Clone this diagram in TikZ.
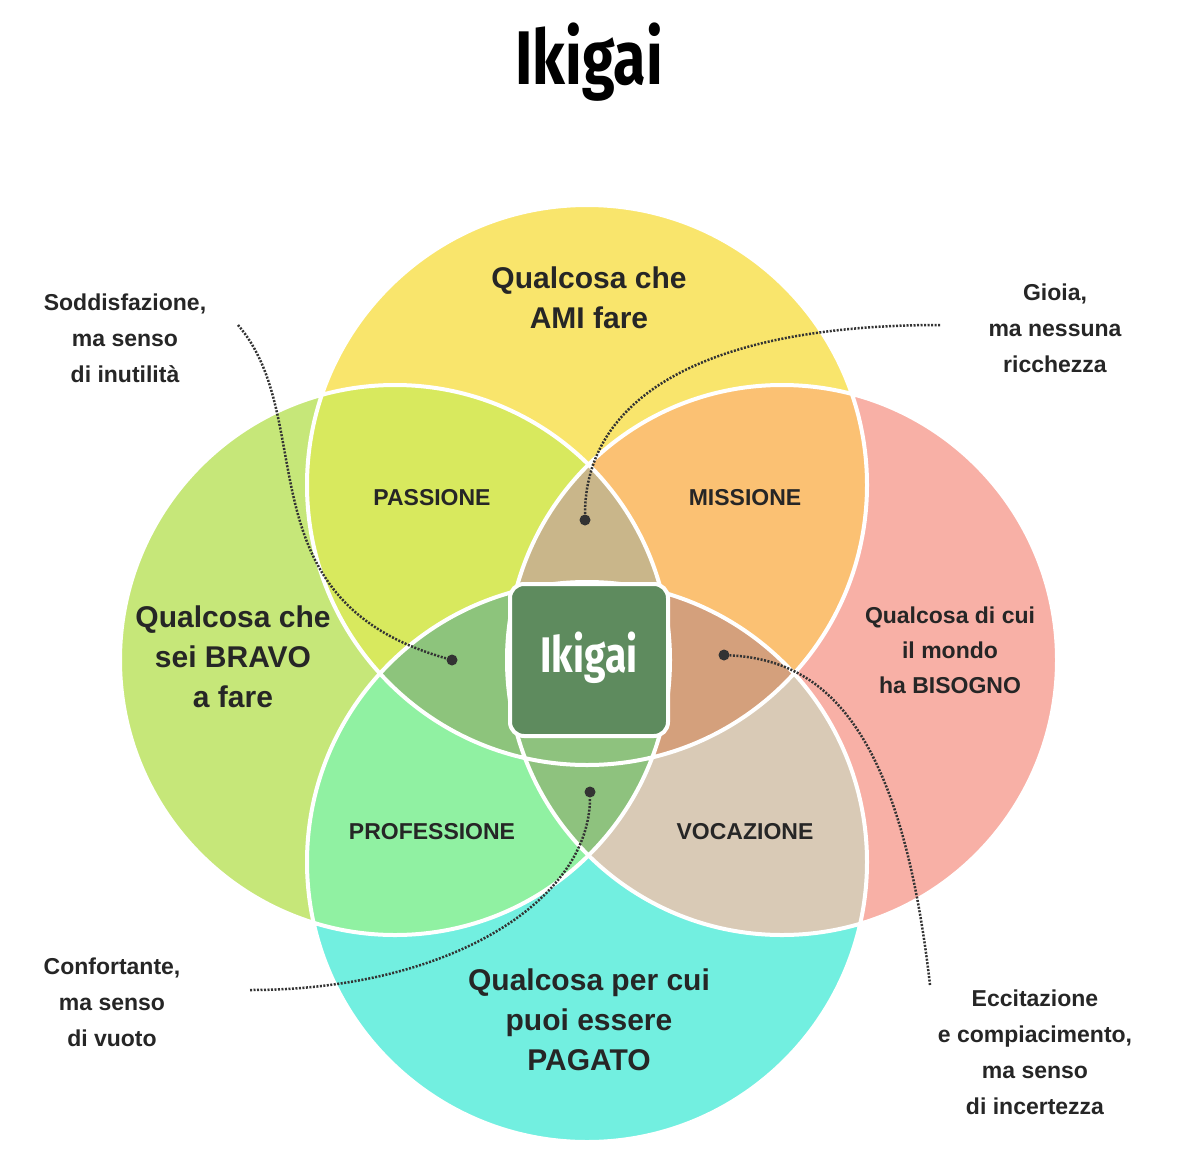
\documentclass[tikz,border=0pt]{standalone}
\usepackage{fontspec}
\setmainfont{Liberation Sans}
\newfontfamily\titlefont{Fira Sans}
\begin{document}
\begin{tikzpicture}[x=1pt,y=-1pt,
  big/.style={font=\bfseries\fontsize{30}{40}\selectfont,align=center,text=black!85},
  reg/.style={font=\bfseries\fontsize{23}{27}\selectfont,text=black!85},
  note/.style={font=\bfseries\fontsize{23}{36}\selectfont,align=center,text=black!85},
  conn/.style={dash pattern=on 2pt off 1.5pt,line width=2.5pt,black!80},
  dot/.style={circle,fill=black!80,inner sep=0pt,minimum size=11pt}]
\useasboundingbox (0,0) rectangle (1178,1175);
\fill[white] (0,0) rectangle (1178,1175);
\def\T{(587,485) circle (280)}
\def\L{(395,660) circle (275)}
\def\R{(782,660) circle (275)}
\def\B{(587,862) circle (280)}
\definecolor{cT}{HTML}{F9E56C}\definecolor{cL}{HTML}{C6E779}
\definecolor{cR}{HTML}{F8B0A6}\definecolor{cB}{HTML}{72EFE0}
\definecolor{cTL}{HTML}{D8E95E}\definecolor{cTR}{HTML}{FBC173}
\definecolor{cLB}{HTML}{90F1A2}\definecolor{cRB}{HTML}{D9CAB6}
\definecolor{cTLR}{HTML}{C9B68A}\definecolor{cTLB}{HTML}{8DC47C}
\definecolor{cTRB}{HTML}{D4A07C}\definecolor{cLRB}{HTML}{8EC27E}
\definecolor{cC}{HTML}{5E8B5E}
\fill[cT] \T; \fill[cB] \B; \fill[cL] \L; \fill[cR] \R;
\begin{scope}\clip \T; \fill[cTL] \L; \fill[cTR] \R; \end{scope}
\begin{scope}\clip \B; \fill[cLB] \L; \fill[cRB] \R; \end{scope}
\begin{scope}\clip \T; \clip \L; \fill[cTLR] \R; \fill[cTLB] \B; \end{scope}
\begin{scope}\clip \T; \clip \R; \fill[cTRB] \B; \end{scope}
\begin{scope}\clip \B; \clip \L; \fill[cLRB] \R; \end{scope}
\draw[white,line width=4pt] \T \L \R \B;
\node[fill=cC,draw=white,line width=4pt,rounded corners=14pt,minimum width=158pt,minimum height=152pt] (ik) at (589,660) {};
\node[text=white,font=\titlefont\bfseries\fontsize{50}{54}\selectfont,xscale=0.78] (ikt) at (589,658) {Ikigai};
\node[text=black,font=\titlefont\bfseries\fontsize{76}{80}\selectfont,xscale=0.78] (title) at (589,62) {Ikigai};
\node[big] (ami) at (589,298) {Qualcosa che\\AMI fare};
\node[big] (bravo) at (233,657) {Qualcosa che\\sei BRAVO\\a fare};
\node[font=\bfseries\fontsize{23}{35}\selectfont,align=center,text=black!85] (mondo) at (950,650) {Qualcosa di cui\\il mondo\\ha BISOGNO};
\node[big] (pagato) at (589,1020) {Qualcosa per cui\\puoi essere\\PAGATO};
\node[reg] (pas) at (432,498) {PASSIONE};
\node[reg] (mis) at (745,498) {MISSIONE};
\node[reg] (pro) at (432,832) {PROFESSIONE};
\node[reg] (voc) at (745,832) {VOCAZIONE};
\node[note] (n1) at (125,338) {Soddisfazione,\\ma senso\\di inutilità};
\node[note] (n2) at (1055,328) {Gioia,\\ma nessuna\\ricchezza};
\node[note] (n3) at (112,1002) {Confortante,\\ma senso\\di vuoto};
\node[note] (n4) at (1035,1052) {Eccitazione\\e compiacimento,\\ma senso\\di incertezza};
\node[dot] (d1) at (452,660) {};
\node[dot] (d2) at (585,520) {};
\node[dot] (d3) at (590,792) {};
\node[dot] (d4) at (724,655) {};
\coordinate (s1) at (238,325);
\coordinate (s2) at (940,325);
\coordinate (s3) at (250,990);
\coordinate (s4) at (930,985);
\draw[conn] (s1) .. controls (320,420) and (240,600) .. (d1);
\draw[conn] (s2) .. controls (700,325) and (585,400) .. (d2);
\draw[conn] (s3) .. controls (450,990) and (590,900) .. (d3);
\draw[conn] (s4) .. controls (900,720) and (820,660) .. (d4);
\end{tikzpicture}
\end{document}
